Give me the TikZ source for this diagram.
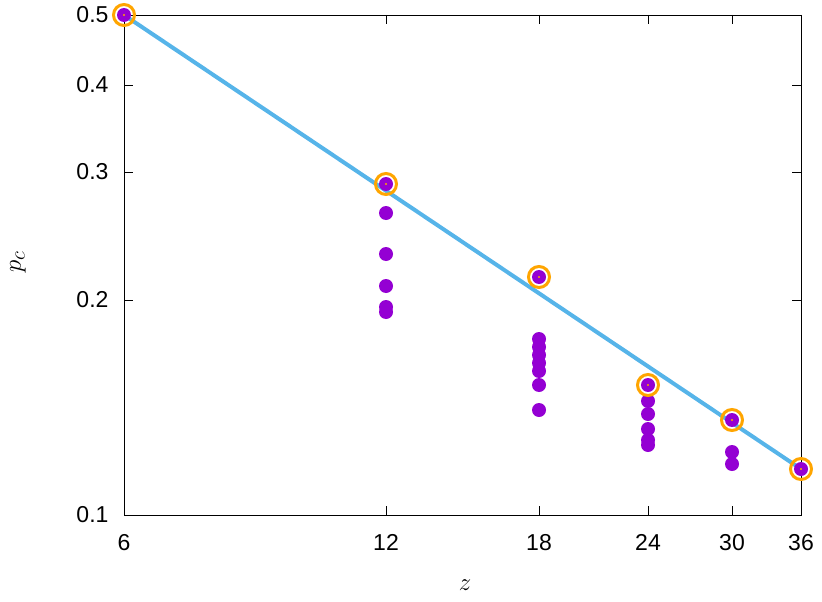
\documentclass[tikz,border=0pt]{standalone}
\usepackage{fontspec}
\setmainfont{Liberation Sans}
\definecolor{fitblue}{RGB}{86,180,233}
\definecolor{ptviolet}{RGB}{148,0,211}
\definecolor{ringorange}{RGB}{255,165,0}
\begin{document}
\begin{tikzpicture}[x=1pt,y=-1pt,
  tick/.style={black,line width=0.8pt},
  dot/.style={fill=ptviolet},
  ring/.style={draw=ringorange,line width=3pt},
  lbl/.style={font=\fontsize{23}{27}\selectfont}]
  \useasboundingbox (0,0) rectangle (822,602);
  % axes box
  \draw[line width=0.9pt] (124,15) rectangle (801,515);
  % y ticks
  \foreach \v/\py in {0.1/515,0.2/300,0.3/172,0.4/85,0.5/15}{
    \draw[tick] (124,\py) -- ++(9,0);
    \draw[tick] (801,\py) -- ++(-9,0);
    \node[lbl,anchor=east] at (112,\py) {\v};
  }
  % x ticks
  \foreach \v/\px in {6/124,12/386,18/539,24/648,30/732,36/801}{
    \draw[tick] (\px,515) -- ++(0,-9);
    \draw[tick] (\px,15) -- ++(0,9);
    \node[lbl,anchor=north] at (\px,531) {\v};
  }
  \node[font=\fontsize{30}{34}\selectfont,rotate=90] at (18,262) {$p_c$};
  \node[font=\fontsize{30}{34}\selectfont] at (465,585) {$z$};
  % fit line
  \draw[fitblue,line width=4pt] (124,15) -- (801,469);
  % data points
  \foreach \px/\py in {386/213,386/254,386/286,386/307,386/312,
    539/339,539/347,539/355,539/363,539/371,539/385,539/410,
    648/401,648/414,648/429,648/440,648/445,732/452,732/464}
    \fill[dot] (\px,\py) circle (7);
  % best points
  \foreach \px/\py in {124/15,386/184,539/277,648/385,732/420,801/469}{
    \fill[dot] (\px,\py) circle (7);
    \draw[ring] (\px,\py) circle (10.5);
    \fill[ringorange] (\px,\py) circle (1.2);
  }
\end{tikzpicture}
\end{document}
